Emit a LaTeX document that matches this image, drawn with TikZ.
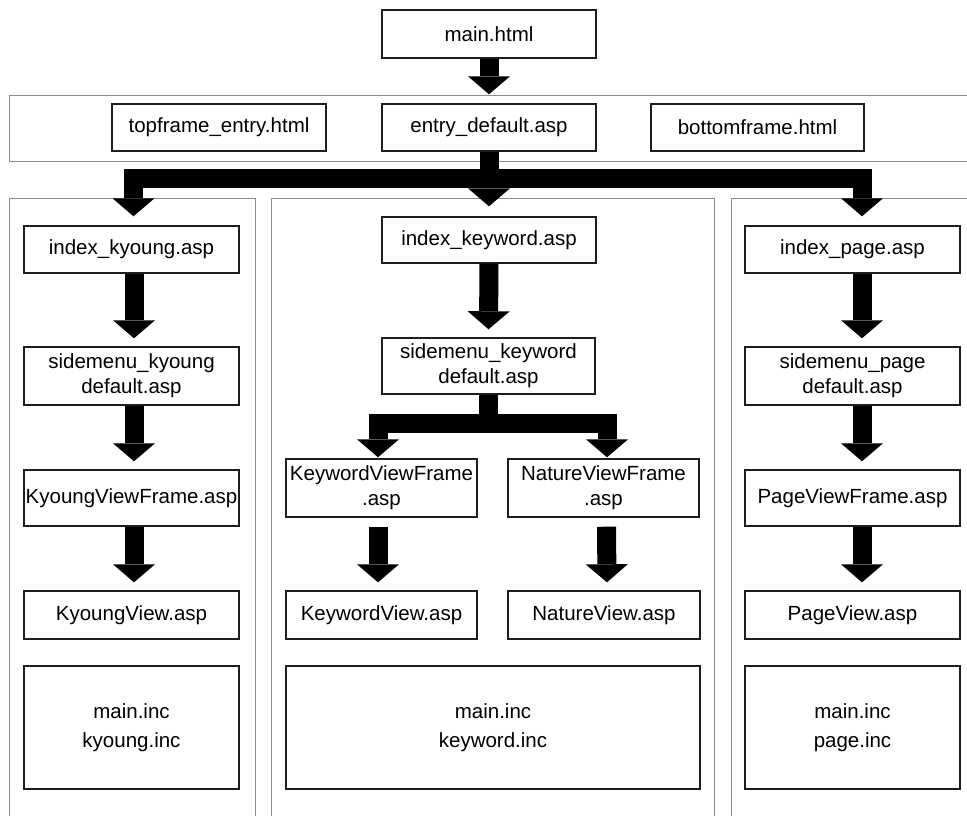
\documentclass[tikz,border=0pt]{standalone}
\usepackage{fontspec}
\setmainfont{Liberation Sans}
\usetikzlibrary{arrows.meta}
\definecolor{panelgray}{HTML}{8C8C8C}
\definecolor{boxline}{HTML}{1E1E1E}
\begin{document}
\begin{tikzpicture}[x=1pt,y=-1pt,
  panel/.style={draw=panelgray,line width=1pt},
  filebox/.style={draw=boxline,line width=1.4pt,fill=white,inner sep=0pt,
    align=center,font=\fontsize{20.5}{25}\selectfont},
  flow/.style={line width=19pt,draw=black,
    -{Triangle[width=42pt,length=18pt,line width=0pt]}}]
\useasboundingbox (0,0) rectangle (967,815);

% frame panels
\begin{scope}
  \clip (0,0) rectangle (967,815);
  \draw[panel] (9,95) rectangle (990,161);
  \draw[panel] (9,198) rectangle (255,840);
  \draw[panel] (271,198) rectangle (714,840);
  \draw[panel] (731,198) rectangle (990,840);
\end{scope}

% top level
\node[filebox,minimum width=214pt,minimum height=48pt] (main) at (489,34) {main.html};
\node[filebox,minimum width=214pt,minimum height=47pt] (topf) at (219,127.5) {topframe\_entry.html};
\node[filebox,minimum width=214pt,minimum height=47pt] (entry) at (489,127.5) {entry\_default.asp};
\node[filebox,minimum width=213pt,minimum height=47pt] (botf) at (757.5,127.5) {bottomframe.html};

% left column
\node[filebox,minimum width=215pt,minimum height=47pt] (ikyoung) at (131.5,249.5) {index\_kyoung.asp};
\node[filebox,minimum width=215pt,minimum height=58pt] (skyoung) at (131.5,376) {sidemenu\_kyoung\\default.asp};
\node[filebox,minimum width=215pt,minimum height=56pt] (kvf) at (131.5,498) {KyoungViewFrame.asp};
\node[filebox,minimum width=215pt,minimum height=48pt] (kv) at (131.5,615) {KyoungView.asp};
\node[filebox,minimum width=215pt,minimum height=123pt] (kinc) at (131.5,727.5) {main.inc\\[4pt]kyoung.inc};

% middle column
\node[filebox,minimum width=214pt,minimum height=46pt] (ikeyword) at (489,240) {index\_keyword.asp};
\node[filebox,minimum width=213pt,minimum height=56pt] (skeyword) at (488.5,366) {sidemenu\_keyword\\default.asp};
\node[filebox,minimum width=191pt,minimum height=58pt] (kwvf) at (381.5,488) {KeywordViewFrame\\.asp};
\node[filebox,minimum width=191pt,minimum height=58pt] (nvf) at (603.5,488) {NatureViewFrame\\.asp};
\node[filebox,minimum width=191pt,minimum height=48pt] (kwv) at (381.5,615) {KeywordView.asp};
\node[filebox,minimum width=192pt,minimum height=48pt] (nv) at (604,615) {NatureView.asp};
\node[filebox,minimum width=414pt,minimum height=123pt] (kwinc) at (493,727.5) {main.inc\\[4pt]keyword.inc};

% right column
\node[filebox,minimum width=215pt,minimum height=47pt] (ipage) at (852.5,249.5) {index\_page.asp};
\node[filebox,minimum width=215pt,minimum height=58pt] (spage) at (852.5,376) {sidemenu\_page\\default.asp};
\node[filebox,minimum width=215pt,minimum height=56pt] (pvf) at (852.5,498) {PageViewFrame.asp};
\node[filebox,minimum width=215pt,minimum height=48pt] (pv) at (852.5,615) {PageView.asp};
\node[filebox,minimum width=215pt,minimum height=123pt] (pinc) at (852.5,727.5) {main.inc\\[4pt]page.inc};

% connectors
\draw[flow] (main.south) -- ([yshift=9pt]entry.north);
\draw[flow] (entry.south) -- ++(0,27) -| ([xshift=2pt,yshift=9pt]ikyoung.north);
\draw[flow] (entry.south) -- ++(0,27) -| ([xshift=9.5pt,yshift=9pt]ipage.north);
\draw[flow] (entry.south) -- ([yshift=10pt]ikeyword.north);

\draw[flow] ([xshift=2.5pt]ikyoung.south) -- ([xshift=2.5pt,yshift=8pt]skyoung.north);
\draw[flow] ([xshift=2.5pt]skyoung.south) -- ([xshift=2.5pt,yshift=8pt]kvf.north);
\draw[flow] ([xshift=2.5pt]kvf.south) -- ([xshift=2.5pt,yshift=8pt]kv.north);

\draw[flow] (ikeyword.south) -- ([yshift=8pt]skeyword.north);
\draw[flow] (skeyword.south) -- ++(0,28.5) -| ([xshift=-3.5pt,yshift=1pt]kwvf.north);
\draw[flow] (skeyword.south) -- ++(0,28.5) -| ([xshift=3.5pt,yshift=1pt]nvf.north);
\draw[flow] ([xshift=-3.5pt,yshift=-9pt]kwvf.south) -- ([xshift=-3.5pt,yshift=8pt]kwv.north);
\draw[flow] ([xshift=3pt,yshift=-9pt]nvf.south) -- ([xshift=3pt,yshift=8pt]nv.north);

\draw[flow] ([xshift=9.5pt]ipage.south) -- ([xshift=9.5pt,yshift=8pt]spage.north);
\draw[flow] ([xshift=9.5pt]spage.south) -- ([xshift=9.5pt,yshift=8pt]pvf.north);
\draw[flow] ([xshift=9.5pt]pvf.south) -- ([xshift=9.5pt,yshift=8pt]pv.north);
\end{tikzpicture}
\end{document}
